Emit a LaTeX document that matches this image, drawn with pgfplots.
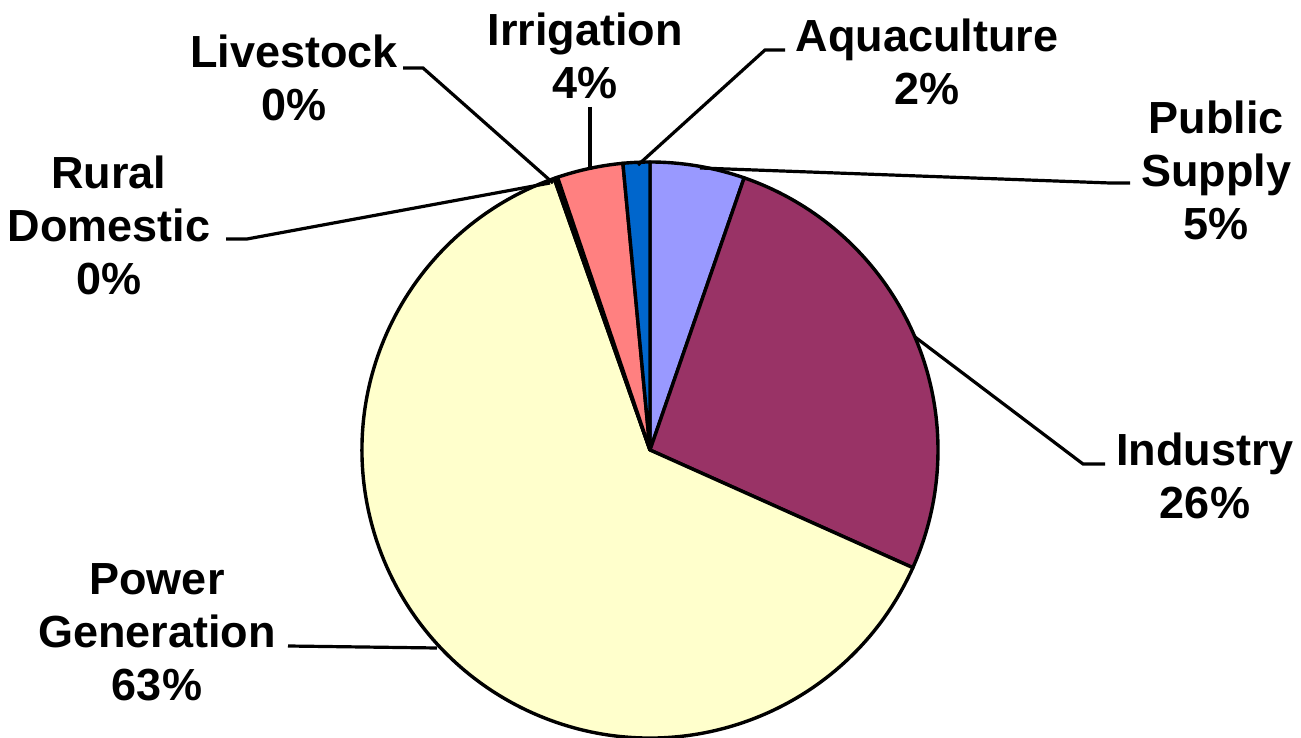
\documentclass[border=0pt]{standalone}
\usepackage{pgfplots}
\pgfplotsset{compat=1.18}
\usepackage{pgfplotstable}
\usepackage{fontspec}
\setmainfont{Liberation Sans}
\definecolor{slice0}{HTML}{9999FF}
\definecolor{slice1}{HTML}{993366}
\definecolor{slice2}{HTML}{FFFFCC}
\definecolor{slice3}{HTML}{CCFFFF}
\definecolor{slice4}{HTML}{660066}
\definecolor{slice5}{HTML}{FF8080}
\definecolor{slice6}{HTML}{0066CC}
\pgfplotstableread{
name value
PublicSupply 5.3
Industry 26.4
PowerGeneration 62.9
RuralDomestic 0.1
Livestock 0.1
Irrigation 3.7
Aquaculture 1.5
}\piedata
\begin{document}
\begin{tikzpicture}
\def\cum{0}
\pgfplotsforeachungrouped \i in {0,...,6}{%
  \pgfplotstablegetelem{\i}{value}\of\piedata
  \pgfmathsetmacro\sa{90-3.6*\cum}%
  \pgfmathsetmacro\cumnew{\cum+\pgfplotsretval}%
  \pgfmathsetmacro\ea{90-3.6*\cumnew}%
  \expandafter\xdef\csname sa\i\endcsname{\sa}%
  \expandafter\xdef\csname ea\i\endcsname{\ea}%
  \xdef\cum{\cumnew}%
}
\begin{axis}[
  scale only axis, width=650.5bp, height=369bp,
  xmin=0, xmax=1301, ymin=0, ymax=738,
  hide axis, clip=false,
]
\pgfplotsinvokeforeach{0,...,6}{
  \filldraw[fill=slice#1, draw=black, line width=1.7bp, line join=round]
    (axis cs:650,288) -- ++(\csname sa#1\endcsname:288)
    arc[start angle=\csname sa#1\endcsname, end angle=\csname ea#1\endcsname, radius=288] -- cycle;
}
\tikzset{lead/.style={draw=black, line width=1.6bp}, lab/.style={align=center, font=\fontsize{22.5bp}{26.5bp}\selectfont\bfseries, inner sep=0pt}}
\draw[lead] (axis cs:403,670) -- (axis cs:423,670) -- (axis cs:553,555);
\draw[lead] (axis cs:590,631) -- (axis cs:590,568);
\draw[lead] (axis cs:785,688) -- (axis cs:765,688) -- (axis cs:638,573);
\draw[lead] (axis cs:1130,555) -- (axis cs:1110,555) -- (axis cs:700,570);
\draw[lead] (axis cs:226,499) -- (axis cs:247,499) -- (axis cs:550,555);
\draw[lead] (axis cs:1105,274) -- (axis cs:1083,274) -- (axis cs:915,401);
\draw[lead] (axis cs:288,92) -- (axis cs:437,90);
\node[lab] at (axis cs:294,660) {Livestock\\0\%};
\node[lab] at (axis cs:585,682) {Irrigation\\4\%};
\node[lab] at (axis cs:927,676) {Aquaculture\\2\%};
\node[lab] at (axis cs:1216,568) {Public\\Supply\\5\%};
\node[lab] at (axis cs:109,513) {Rural\\Domestic\\0\%};
\node[lab] at (axis cs:1205,262) {Industry\\26\%};
\node[lab] at (axis cs:157,106) {Power\\Generation\\63\%};
\end{axis}
\pgfresetboundingbox
\useasboundingbox (current axis.south west) rectangle (current axis.north east);
\end{tikzpicture}
\end{document}
